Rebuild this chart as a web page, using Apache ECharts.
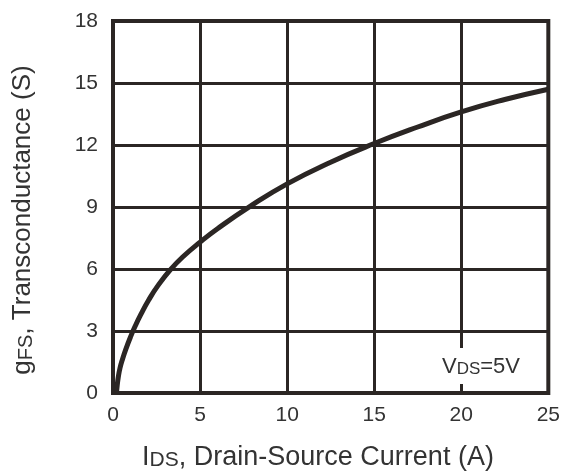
<!DOCTYPE html>
<html>
<head>
<meta charset="utf-8">
<title>Transconductance vs Drain-Source Current</title>
<script src="https://cdn.jsdelivr.net/npm/echarts@6/dist/echarts.min.js"></script>
<style>
  html, body { margin: 0; padding: 0; background: #fff; }
  #chart { width: 563px; height: 475px; }
</style>
</head>
<body>
<div id="chart"></div>
<script>
// Drain-source current IDS (A)
var currentA = [0.2, 0.24, 0.3, 0.4, 0.55, 0.75, 1.0, 1.25, 1.6, 2.05, 2.6, 3.3, 4, 5, 6, 7.85, 10, 12.5, 15, 17.5, 20, 22.5, 25];
// Forward transconductance gFS (S) at VDS = 5 V
var gfsS = [0, 0.35, 0.75, 1.2, 1.65, 2.15, 2.7, 3.19, 3.8, 4.5, 5.22, 5.97, 6.58, 7.3, 7.95, 9.02, 10.12, 11.17, 12.07, 12.87, 13.6, 14.2, 14.7];
// Axis tick values
var xTicks = [0, 5, 10, 15, 20, 25];
var yTicks = [0, 3, 6, 9, 12, 15, 18];

var ink = '#2b2624';
var textCol = '#333';
var font = '"Liberation Sans", Arial, sans-serif';

var points = currentA.map(function (x, i) { return [x, gfsS[i]]; });

var chart = echarts.init(document.getElementById('chart'), null, { renderer: 'canvas' });
chart.setOption({
  animation: false,
  backgroundColor: '#fff',
  grid: {
    left: 113, right: 12, top: 21, bottom: 82,
    show: true, borderColor: ink, borderWidth: 4, backgroundColor: 'transparent'
  },
  xAxis: {
    type: 'value',
    min: xTicks[0], max: xTicks[xTicks.length - 1], interval: 5,
    axisLine: { show: false },
    axisTick: { show: false },
    splitLine: { show: true, lineStyle: { color: ink, width: 3 } },
    axisLabel: { color: textCol, fontSize: 21, fontFamily: font, margin: 12 }
  },
  yAxis: {
    type: 'value',
    min: yTicks[0], max: yTicks[yTicks.length - 1], interval: 3,
    axisLine: { show: false },
    axisTick: { show: false },
    splitLine: { show: true, lineStyle: { color: ink, width: 3 } },
    axisLabel: { color: textCol, fontSize: 21, fontFamily: font, margin: 15 }
  },
  series: [{
    type: 'line',
    data: points,
    smooth: 0.5,
    showSymbol: false,
    lineStyle: { color: ink, width: 5 },
    z: 5
  }],
  graphic: [
    {
      type: 'text',
      x: 318, y: 456,
      style: {
        text: '{a|I}{b|DS}{a|, Drain-Source Current (A)}',
        align: 'center', verticalAlign: 'middle',
        fill: textCol,
        rich: {
          a: { fontSize: 27, fontFamily: font, fill: textCol, verticalAlign: 'bottom', lineHeight: 30 },
          b: { fontSize: 21, fontFamily: font, fill: textCol, verticalAlign: 'bottom', lineHeight: 30 }
        }
      }
    },
    {
      type: 'text',
      x: 21, y: 220,
      rotation: Math.PI / 2,
      style: {
        text: '{a|g}{b|FS}{a|, Transconductance (S)}',
        align: 'center', verticalAlign: 'middle',
        fill: textCol,
        rich: {
          a: { fontSize: 26, fontFamily: font, fill: textCol, verticalAlign: 'bottom', lineHeight: 30 },
          b: { fontSize: 20, fontFamily: font, fill: textCol, verticalAlign: 'bottom', lineHeight: 30 }
        }
      }
    },
    {
      type: 'text',
      x: 481, y: 366,
      z: 10,
      style: {
        text: '{a|V}{b|DS}{a|=5V}',
        align: 'center', verticalAlign: 'middle',
        backgroundColor: '#fff',
        padding: [6, 3, 6, 3],
        fill: textCol,
        rich: {
          a: { fontSize: 22, fontFamily: font, fill: textCol, verticalAlign: 'bottom', lineHeight: 24 },
          b: { fontSize: 17, fontFamily: font, fill: textCol, verticalAlign: 'bottom', lineHeight: 24 }
        }
      }
    }
  ]
});
</script>
</body>
</html>
